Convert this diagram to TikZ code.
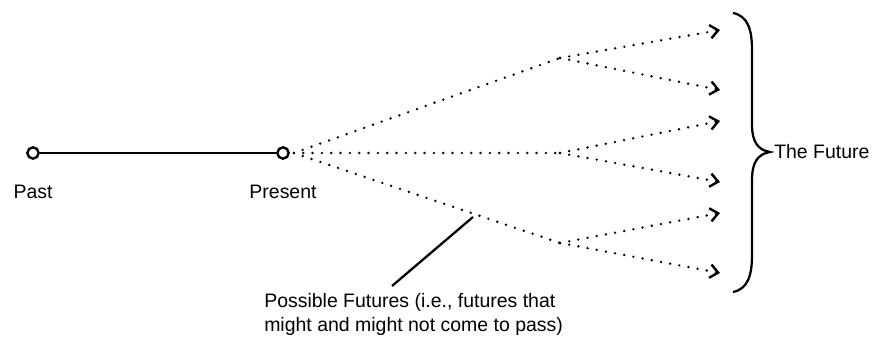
\documentclass[tikz,border=0pt]{standalone}
\usepackage{fontspec}
\setmainfont{Liberation Sans}
\usetikzlibrary{arrows.meta}

\begin{document}
\begin{tikzpicture}[x=0.75pt,y=0.75pt,yscale=-1,xscale=1,
	every node/.style={font=\fontsize{14.6}{18}\selectfont, inner sep=0.75pt},
	timept/.style={draw, circle, line width=1.8pt, minimum size=8.5pt, inner sep=0pt, fill=white},
	branch/.style={line width=2pt, dash pattern=on 0pt off 7pt, line cap=round},
	future/.style={branch, -{Straight Barb[length=6pt,width=10pt,line width=1.8pt,line cap=butt]}}]
	\useasboundingbox (0,0) rectangle (873,341);
	% time line
	\node [timept] (past) at (33,153) {};
	\node [timept] (present) at (283,153) {};
	\draw [line width=1.7pt] (past) -- (present);
	\node (pastlbl) at (33,192) {Past};
	\node (presentlbl) at (283,192) {Present};

	% branch points and ends
	\coordinate (b1) at (560,58);
	\coordinate (b2) at (560,153);
	\coordinate (b3) at (560,243);
	\coordinate (f1) at (720,30);
	\coordinate (f2) at (720,90);
	\coordinate (f3) at (720,121);
	\coordinate (f4) at (720,182);
	\coordinate (f5) at (720,213);
	\coordinate (f6) at (720,273);

	\draw [branch] (present.east) ++(4,0) -- (b1);
	\draw [branch] (present.east) ++(4,0) -- (b2);
	\draw [branch] (present.east) ++(4,0) -- (b3);
	\draw [future] (b1) -- (f1);
	\draw [future] (b1) -- (f2);
	\draw [future] (b2) -- (f3);
	\draw [future] (b2) -- (f4);
	\draw [future] (b3) -- (f5);
	\draw [future] (b3) -- (f6);

	% brace
	\draw [line width=1.7pt] (733,13) .. controls (748,16) and (752,30) .. (752,50) -- (752,125) .. controls (752,142) and (758,150) .. (770,152) .. controls (758,154) and (752,162) .. (752,180) -- (752,255) .. controls (752,275) and (748,289) .. (733,292);
	\node [anchor=west] (future) at (773,152) {The Future};

	% label for the possible futures
	\coordinate (tick) at (473,217);
	\coordinate (tickend) at (392,286);
	\draw [line width=1.7pt] (tick) -- (tickend);
	\node [anchor=north west, align=left] (possible) at (263,292) {Possible Futures (i.e., futures that\\might and might not come to pass)};
\end{tikzpicture}
\end{document}
